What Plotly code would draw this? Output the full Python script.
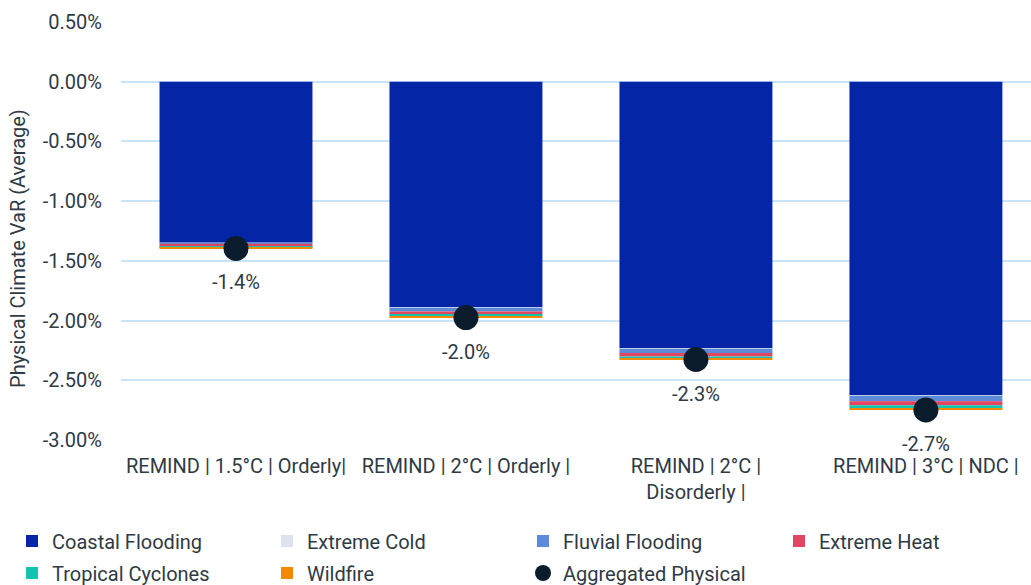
import plotly.graph_objects as go

# Scenarios (x-axis categories)
scenarios = [
    "REMIND | 1.5°C | Orderly|",
    "REMIND | 2°C | Orderly |",
    "REMIND | 2°C |<br>Disorderly |",
    "REMIND | 3°C | NDC |",
]

# Physical climate VaR contributions by hazard (% of value)
coastal_flooding = [-1.345, -1.890, -2.235, -2.628]
extreme_cold = [-0.002, -0.003, -0.001, -0.001]
fluvial_flooding = [-0.010, -0.030, -0.036, -0.047]
extreme_heat = [-0.025, -0.030, -0.029, -0.034]
tropical_cyclones = [-0.008, -0.012, -0.017, -0.028]
wildfire = [-0.006, -0.010, -0.008, -0.011]

# Aggregated physical VaR per scenario
aggregated = [-1.396, -1.975, -2.326, -2.749]
aggregated_labels = ["-1.4%", "-2.0%", "-2.3%", "-2.7%"]

y_ticks = [0.5, 0.0, -0.5, -1.0, -1.5, -2.0, -2.5, -3.0]
y_tick_text = ["0.50%", "0.00%", "-0.50%", "-1.00%", "-1.50%", "-2.00%", "-2.50%", "-3.00%"]

# name, values, colour, legend column
hazards = [
    ("Coastal Flooding", coastal_flooding, "#0325a6", "legend"),
    ("Extreme Cold", extreme_cold, "#dde3ec", "legend2"),
    ("Fluvial Flooding", fluvial_flooding, "#5b8bd9", "legend3"),
    ("Extreme Heat", extreme_heat, "#e2455f", "legend4"),
    ("Tropical Cyclones", tropical_cyclones, "#12c4b0", "legend"),
    ("Wildfire", wildfire, "#f28a00", "legend2"),
]

FONT = "Roboto"
FS = 20
TEXT = "#2f3a45"

fig = go.Figure()
for name, vals, color, leg in hazards:
    fig.add_trace(go.Bar(
        x=list(range(len(scenarios))), y=vals, name=name,
        marker=dict(color=color, line=dict(width=0)),
        width=0.665, legend=leg, legendgroup=name,
    ))

fig.add_trace(go.Scatter(
    x=list(range(len(scenarios))), y=aggregated, name="Aggregated Physical",
    mode="markers", legend="legend3", legendgroup="agg",
    marker=dict(color="#0b1d2c", size=25, line=dict(width=0)),
))

for i, (v, lab) in enumerate(zip(aggregated, aggregated_labels)):
    fig.add_annotation(
        x=i, y=v, text=lab, showarrow=False, yshift=-34,
        font=dict(family=FONT, size=FS, color=TEXT),
    )

# y-axis title, set vertically at the left edge of the page
fig.add_annotation(
    text="Physical Climate VaR (Average)", textangle=-90,
    xref="paper", x=-117 / 910, yref="paper", y=0.457,
    showarrow=False, font=dict(family=FONT, size=FS, color=TEXT),
)

# four legend columns laid out across the bottom of the page
legend_cols = {"legend": 12, "legend2": 267, "legend3": 523, "legend4": 779}
W, H = 1031, 585
legend_layout = {}
for key, px in legend_cols.items():
    legend_layout[key] = dict(
        orientation="v", xref="container", yref="container",
        x=px / W, xanchor="left", y=0.1085, yanchor="top",
        traceorder="grouped", tracegroupgap=3,
        font=dict(family=FONT, size=FS, color=TEXT),
        bgcolor="rgba(0,0,0,0)", borderwidth=0,
    )

fig.update_layout(
    width=W, height=H,
    margin=dict(l=121, r=0, t=22, b=145, autoexpand=False),
    paper_bgcolor="white", plot_bgcolor="white",
    barmode="relative", bargap=0.335,
    font=dict(family=FONT, size=FS, color=TEXT),
    showlegend=True,
    **legend_layout,
    xaxis=dict(
        tickmode="array", tickvals=list(range(len(scenarios))), ticktext=scenarios,
        range=[-0.5, 3.457], showgrid=False, zeroline=False, showline=False,
        tickangle=0, automargin=False, ticklabelstandoff=12,
        tickfont=dict(family=FONT, size=FS, color=TEXT),
    ),
    yaxis=dict(
        range=[-3.0, 0.5], tickmode="array", tickvals=y_ticks, ticktext=y_tick_text,
        showgrid=True, gridcolor="#c8e4f6", gridwidth=2, zeroline=False,
        ticklabelstandoff=18, automargin=False,
        tickfont=dict(family=FONT, size=FS, color=TEXT),
    ),
)

fig.write_html("out.html")
